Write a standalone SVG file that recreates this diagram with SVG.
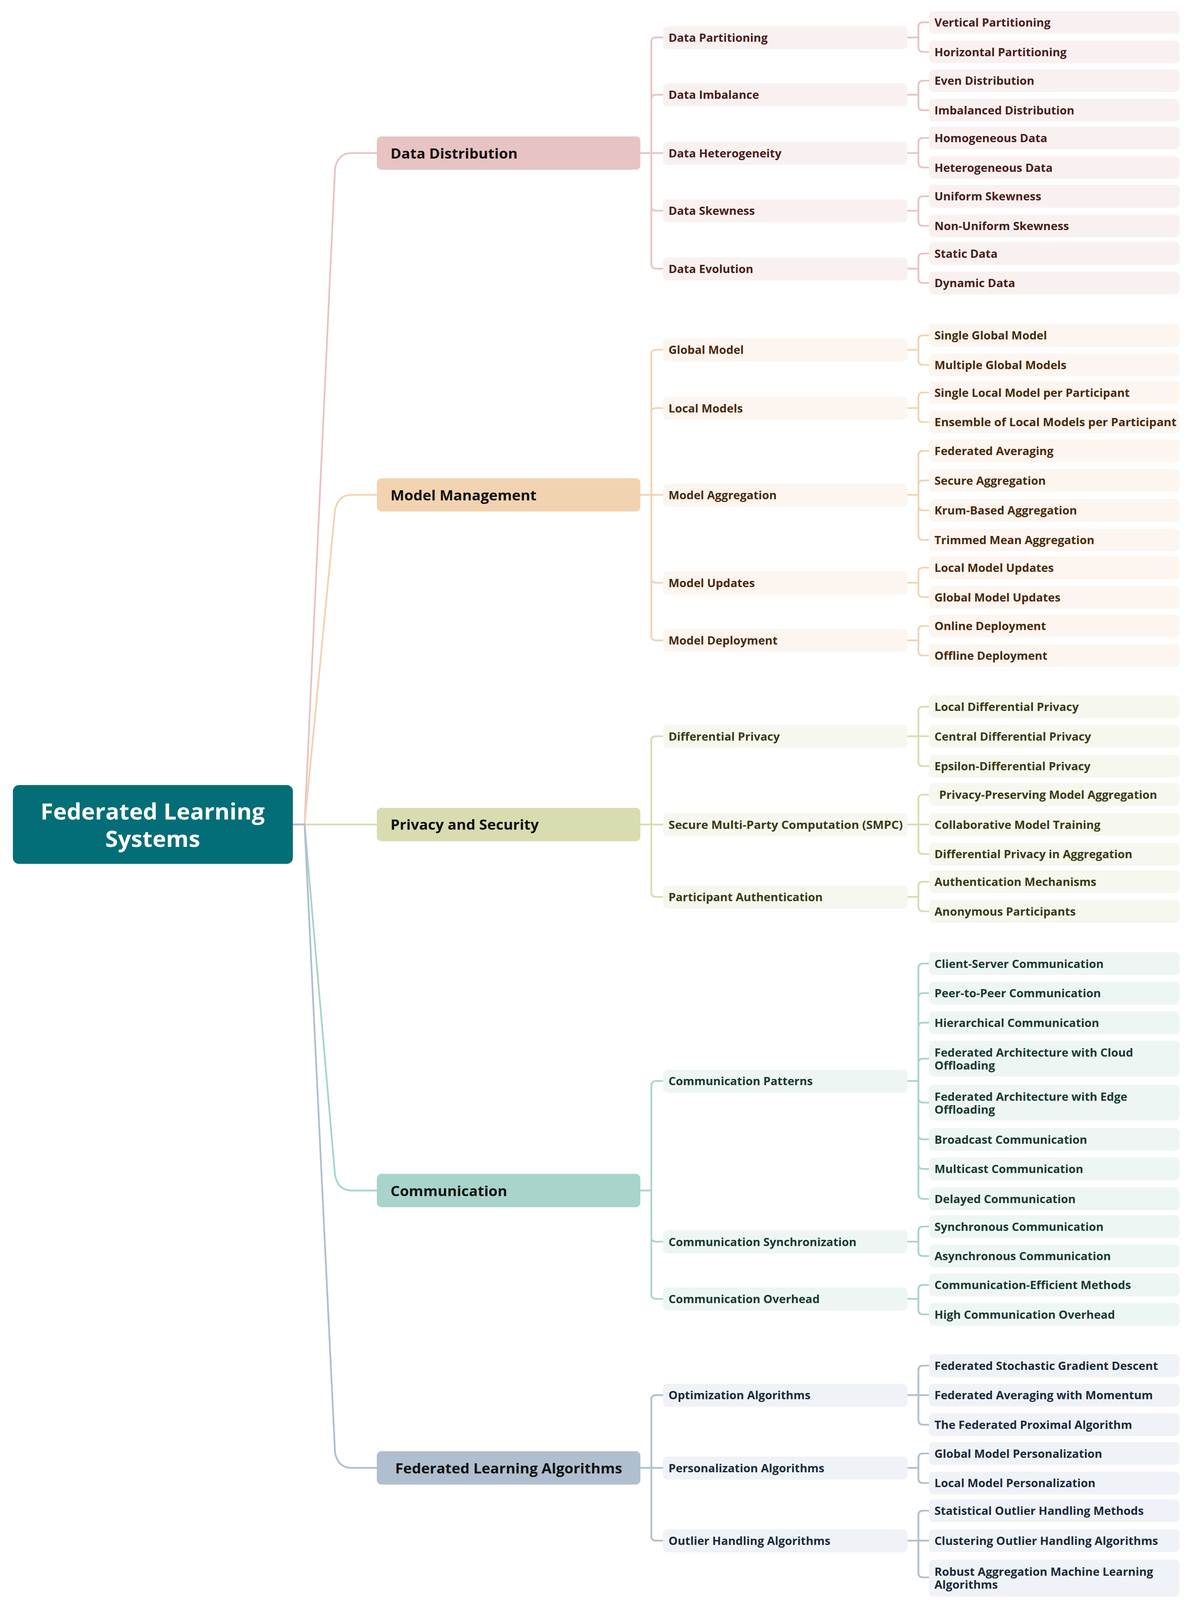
<svg xmlns="http://www.w3.org/2000/svg" width="3068" height="4238" viewBox="0 0 3068 4238">
<style>
text{font-family:"Open Sans","Liberation Sans",sans-serif;font-weight:700;dominant-baseline:central}
.t1{font-size:37.5px;fill:#111}
.t2,.t3{font-size:29.5px}
.c{fill:none;stroke-width:4.5;stroke-linecap:round}
.dd .b1{fill:#e8c3c3}.dd .b{fill:#f9f1f0}.dd text.t2,.dd text.t3{fill:#4a1c1c}
.mm .b1{fill:#f2d3b1}.mm .b{fill:#fdf5ef}.mm text.t2,.mm text.t3{fill:#4a2a08}
.ps .b1{fill:#d9dcb0}.ps .b{fill:#f6f7ee}.ps text.t2,.ps text.t3{fill:#3a3a12}
.cm .b1{fill:#a8d4cb}.cm .b{fill:#eef6f4}.cm text.t2,.cm text.t3{fill:#173a32}
.fa .b1{fill:#b0bfcf}.fa .b{fill:#eff2f6}.fa text.t2,.fa text.t3{fill:#1a2a3c}
.cdd{stroke:#e8c3c3}.cmm{stroke:#f2d3b1}.cps{stroke:#d9dcb0}.ccm{stroke:#a8d4cb}.cfa{stroke:#b0bfcf}
</style>
<rect width="3068" height="4238" fill="#fff"/>
<g transform="scale(1,0.97)">
<g id="connectors">
<path class="c cdd" d="M750,2176 H780 L858,444 Q866,404 900,404 H965"/>
<path class="c cmm" d="M750,2176 H780 L858,1346 Q866,1306 900,1306 H965"/>
<path class="c cps" d="M750,2176 H965"/>
<path class="c ccm" d="M750,2176 H780 L858,3102 Q866,3142 900,3142 H965"/>
<path class="c cfa" d="M750,2176 H780 L858,3834 Q866,3874 900,3874 H965"/>
<path class="c cdd" d="M1640,404 H1668 V111 Q1668,99 1680,99 H1698 M1668,262 Q1668,250 1680,250 H1698 M1640,404 H1698 M1668,404 V697 Q1668,709 1680,709 H1698 M1668,544 Q1668,556 1680,556 H1698"/>
<path class="c cdd" d="M2324,99 H2352 M2352,99 V71 Q2352,59 2364,59 H2379 M2352,99 V125 Q2352,137 2364,137 H2379 M2324,250 H2352 V225 Q2352,213 2364,213 H2379 M2352,250 V279 Q2352,291 2364,291 H2379 M2324,404 H2352 V376 Q2352,364 2364,364 H2379 M2352,404 V430 Q2352,442 2364,442 H2379 M2324,556 H2352 V530 Q2352,518 2364,518 H2379 M2352,556 V584 Q2352,596 2364,596 H2379 M2324,709 H2352 V681 Q2352,669 2364,669 H2379 M2352,709 V735 Q2352,747 2364,747 H2379"/>
<path class="c cmm" d="M1640,1306 H1698 M1668,1306 V935 Q1668,923 1680,923 H1698 M1668,1089 Q1668,1077 1680,1077 H1698 M1668,1306 V1678 Q1668,1690 1680,1690 H1698 M1668,1526 Q1668,1538 1680,1538 H1698"/>
<path class="c cmm" d="M2324,923 H2352 V897 Q2352,885 2364,885 H2379 M2352,923 V951 Q2352,963 2364,963 H2379 M2324,1077 H2352 V1048 Q2352,1036 2364,1036 H2379 M2352,1077 V1102 Q2352,1114 2364,1114 H2379 M2324,1306 H2352 V1202 Q2352,1190 2364,1190 H2379 M2352,1280 Q2352,1268 2364,1268 H2379 M2352,1306 V1413 Q2352,1425 2364,1425 H2379 M2352,1335 Q2352,1347 2364,1347 H2379 M2324,1538 H2352 V1510 Q2352,1498 2364,1498 H2379 M2352,1538 V1564 Q2352,1576 2364,1576 H2379 M2324,1690 H2352 V1664 Q2352,1652 2364,1652 H2379 M2352,1690 V1718 Q2352,1730 2364,1730 H2379"/>
<path class="c cps" d="M1640,2176 H1698 M1668,2176 V1955 Q1668,1943 1680,1943 H1698 M1668,2176 V2355 Q1668,2367 1680,2367 H1698"/>
<path class="c cps" d="M2324,1943 H2379 M2352,1943 V1877 Q2352,1865 2364,1865 H2379 M2352,1943 V2010 Q2352,2022 2364,2022 H2379 M2324,2176 H2379 M2352,2176 V2109 Q2352,2097 2364,2097 H2379 M2352,2176 V2242 Q2352,2254 2364,2254 H2379 M2324,2367 H2352 V2339 Q2352,2327 2364,2327 H2379 M2352,2367 V2393 Q2352,2405 2364,2405 H2379"/>
<path class="c ccm" d="M1640,3142 H1668 V2865 Q1668,2853 1680,2853 H1698 M1668,3142 V3416 Q1668,3428 1680,3428 H1698 M1668,3265 Q1668,3277 1680,3277 H1698"/>
<path class="c ccm" d="M2324,2853 H2352 V2555 Q2352,2543 2364,2543 H2379 M2352,2633 Q2352,2621 2364,2621 H2379 M2352,2711 Q2352,2699 2364,2699 H2379 M2352,2806 Q2352,2794 2364,2794 H2379 M2352,2853 V3152 Q2352,3164 2364,3164 H2379 M2352,2898 Q2352,2910 2364,2910 H2379 M2352,2995 Q2352,3007 2364,3007 H2379 M2352,3073 Q2352,3085 2364,3085 H2379 M2324,3277 H2352 V3249 Q2352,3237 2364,3237 H2379 M2352,3277 V3303 Q2352,3315 2364,3315 H2379 M2324,3428 H2352 V3403 Q2352,3391 2364,3391 H2379 M2352,3428 V3457 Q2352,3469 2364,3469 H2379"/>
<path class="c cfa" d="M1640,3874 H1698 M1668,3874 V3694 Q1668,3682 1680,3682 H1698 M1668,3874 V4054 Q1668,4066 1680,4066 H1698"/>
<path class="c cfa" d="M2324,3682 H2379 M2352,3682 V3616 Q2352,3604 2364,3604 H2379 M2352,3682 V3748 Q2352,3760 2364,3760 H2379 M2324,3874 H2352 V3848 Q2352,3836 2364,3836 H2379 M2352,3874 V3902 Q2352,3914 2364,3914 H2379 M2324,4066 H2379 M2352,4066 V3999 Q2352,3987 2364,3987 H2379 M2352,4066 V4151 Q2352,4163 2364,4163 H2379"/>
</g>
<g id="root"><rect x="33" y="2072" width="717" height="208" rx="16" fill="#036e77"/>
<text x="391" y="2140" text-anchor="middle" font-size="59" fill="#fff">Federated Learning</text>
<text x="391" y="2212" text-anchor="middle" font-size="59" fill="#fff">Systems</text></g>

<g id="dd" class="dd">
<rect class="b1" x="965" y="360" width="675" height="88" rx="12"/><text class="t1" x="1000" y="404">Data Distribution</text>
<rect class="b" x="1698" y="69" width="626" height="61" rx="12"/><text class="t2" x="1712" y="99">Data Partitioning</text>
<rect class="b" x="1698" y="220" width="626" height="61" rx="12"/><text class="t2" x="1712" y="250">Data Imbalance</text>
<rect class="b" x="1698" y="374" width="626" height="61" rx="12"/><text class="t2" x="1712" y="404">Data Heterogeneity</text>
<rect class="b" x="1698" y="526" width="626" height="61" rx="12"/><text class="t2" x="1712" y="556">Data Skewness</text>
<rect class="b" x="1698" y="679" width="626" height="61" rx="12"/><text class="t2" x="1712" y="709">Data Evolution</text>
<rect class="b" x="2379" y="29" width="642" height="60" rx="12"/><text class="t3" x="2393" y="59">Vertical Partitioning</text>
<rect class="b" x="2379" y="107" width="642" height="60" rx="12"/><text class="t3" x="2393" y="137">Horizontal Partitioning</text>
<rect class="b" x="2379" y="183" width="642" height="60" rx="12"/><text class="t3" x="2393" y="213">Even Distribution</text>
<rect class="b" x="2379" y="261" width="642" height="60" rx="12"/><text class="t3" x="2393" y="291">Imbalanced Distribution</text>
<rect class="b" x="2379" y="334" width="642" height="60" rx="12"/><text class="t3" x="2393" y="364">Homogeneous Data</text>
<rect class="b" x="2379" y="412" width="642" height="60" rx="12"/><text class="t3" x="2393" y="442">Heterogeneous Data</text>
<rect class="b" x="2379" y="488" width="642" height="60" rx="12"/><text class="t3" x="2393" y="518">Uniform Skewness</text>
<rect class="b" x="2379" y="566" width="642" height="60" rx="12"/><text class="t3" x="2393" y="596">Non-Uniform Skewness</text>
<rect class="b" x="2379" y="639" width="642" height="60" rx="12"/><text class="t3" x="2393" y="669">Static Data</text>
<rect class="b" x="2379" y="717" width="642" height="60" rx="12"/><text class="t3" x="2393" y="747">Dynamic Data</text>
</g>

<g id="mm" class="mm">
<rect class="b1" x="965" y="1262" width="675" height="88" rx="12"/><text class="t1" x="1000" y="1306">Model Management</text>
<rect class="b" x="1698" y="893" width="626" height="61" rx="12"/><text class="t2" x="1712" y="923">Global Model</text>
<rect class="b" x="1698" y="1047" width="626" height="61" rx="12"/><text class="t2" x="1712" y="1077">Local Models</text>
<rect class="b" x="1698" y="1276" width="626" height="61" rx="12"/><text class="t2" x="1712" y="1306">Model Aggregation</text>
<rect class="b" x="1698" y="1508" width="626" height="61" rx="12"/><text class="t2" x="1712" y="1538">Model Updates</text>
<rect class="b" x="1698" y="1660" width="626" height="61" rx="12"/><text class="t2" x="1712" y="1690">Model Deployment</text>
<rect class="b" x="2379" y="855" width="642" height="60" rx="12"/><text class="t3" x="2393" y="885">Single Global Model</text>
<rect class="b" x="2379" y="933" width="642" height="60" rx="12"/><text class="t3" x="2393" y="963">Multiple Global Models</text>
<rect class="b" x="2379" y="1006" width="642" height="60" rx="12"/><text class="t3" x="2393" y="1036">Single Local Model per Participant</text>
<rect class="b" x="2379" y="1084" width="642" height="60" rx="12"/><text class="t3" x="2393" y="1114" textLength="620" lengthAdjust="spacingAndGlyphs">Ensemble of Local Models per Participant</text>
<rect class="b" x="2379" y="1160" width="642" height="60" rx="12"/><text class="t3" x="2393" y="1190">Federated Averaging</text>
<rect class="b" x="2379" y="1238" width="642" height="60" rx="12"/><text class="t3" x="2393" y="1268">Secure Aggregation</text>
<rect class="b" x="2379" y="1317" width="642" height="60" rx="12"/><text class="t3" x="2393" y="1347">Krum-Based Aggregation</text>
<rect class="b" x="2379" y="1395" width="642" height="60" rx="12"/><text class="t3" x="2393" y="1425">Trimmed Mean Aggregation</text>
<rect class="b" x="2379" y="1468" width="642" height="60" rx="12"/><text class="t3" x="2393" y="1498">Local Model Updates</text>
<rect class="b" x="2379" y="1546" width="642" height="60" rx="12"/><text class="t3" x="2393" y="1576">Global Model Updates</text>
<rect class="b" x="2379" y="1622" width="642" height="60" rx="12"/><text class="t3" x="2393" y="1652">Online Deployment</text>
<rect class="b" x="2379" y="1700" width="642" height="60" rx="12"/><text class="t3" x="2393" y="1730">Offline Deployment</text>
</g>

<g id="ps" class="ps">
<rect class="b1" x="965" y="2132" width="675" height="88" rx="12"/><text class="t1" x="1000" y="2176">Privacy and Security</text>
<rect class="b" x="1698" y="1913" width="626" height="61" rx="12"/><text class="t2" x="1712" y="1943">Differential Privacy</text>
<rect class="b" x="1698" y="2146" width="626" height="61" rx="12"/><text class="t2" x="1712" y="2176" textLength="600" lengthAdjust="spacingAndGlyphs">Secure Multi-Party Computation (SMPC)</text>
<rect class="b" x="1698" y="2337" width="626" height="61" rx="12"/><text class="t2" x="1712" y="2367">Participant Authentication</text>
<rect class="b" x="2379" y="1835" width="642" height="60" rx="12"/><text class="t3" x="2393" y="1865">Local Differential Privacy</text>
<rect class="b" x="2379" y="1913" width="642" height="60" rx="12"/><text class="t3" x="2393" y="1943">Central Differential Privacy</text>
<rect class="b" x="2379" y="1992" width="642" height="60" rx="12"/><text class="t3" x="2393" y="2022">Epsilon-Differential Privacy</text>
<rect class="b" x="2379" y="2067" width="642" height="60" rx="12"/><text class="t3" x="2405" y="2097">Privacy-Preserving Model Aggregation</text>
<rect class="b" x="2379" y="2146" width="642" height="60" rx="12"/><text class="t3" x="2393" y="2176">Collaborative Model Training</text>
<rect class="b" x="2379" y="2224" width="642" height="60" rx="12"/><text class="t3" x="2393" y="2254">Differential Privacy in Aggregation</text>
<rect class="b" x="2379" y="2297" width="642" height="60" rx="12"/><text class="t3" x="2393" y="2327">Authentication Mechanisms</text>
<rect class="b" x="2379" y="2375" width="642" height="60" rx="12"/><text class="t3" x="2393" y="2405">Anonymous Participants</text>
</g>

<g id="cm" class="cm">
<rect class="b1" x="965" y="3098" width="675" height="88" rx="12"/><text class="t1" x="1000" y="3142">Communication</text>
<rect class="b" x="1698" y="2823" width="626" height="61" rx="12"/><text class="t2" x="1712" y="2853">Communication Patterns</text>
<rect class="b" x="1698" y="3247" width="626" height="61" rx="12"/><text class="t2" x="1712" y="3277">Communication Synchronization</text>
<rect class="b" x="1698" y="3398" width="626" height="61" rx="12"/><text class="t2" x="1712" y="3428">Communication Overhead</text>
<rect class="b" x="2379" y="2513" width="642" height="60" rx="12"/><text class="t3" x="2393" y="2543">Client-Server Communication</text>
<rect class="b" x="2379" y="2591" width="642" height="60" rx="12"/><text class="t3" x="2393" y="2621">Peer-to-Peer Communication</text>
<rect class="b" x="2379" y="2669" width="642" height="60" rx="12"/><text class="t3" x="2393" y="2699">Hierarchical Communication</text>
<rect class="b" x="2379" y="2747" width="642" height="94" rx="12"/><text class="t3" x="2393" y="2778">Federated Architecture with Cloud</text><text class="t3" x="2393" y="2812">Offloading</text>
<rect class="b" x="2379" y="2863" width="642" height="94" rx="12"/><text class="t3" x="2393" y="2894">Federated Architecture with Edge</text><text class="t3" x="2393" y="2928">Offloading</text>
<rect class="b" x="2379" y="2977" width="642" height="60" rx="12"/><text class="t3" x="2393" y="3007">Broadcast Communication</text>
<rect class="b" x="2379" y="3055" width="642" height="60" rx="12"/><text class="t3" x="2393" y="3085">Multicast Communication</text>
<rect class="b" x="2379" y="3134" width="642" height="60" rx="12"/><text class="t3" x="2393" y="3164">Delayed Communication</text>
<rect class="b" x="2379" y="3207" width="642" height="60" rx="12"/><text class="t3" x="2393" y="3237">Synchronous Communication</text>
<rect class="b" x="2379" y="3285" width="642" height="60" rx="12"/><text class="t3" x="2393" y="3315">Asynchronous Communication</text>
<rect class="b" x="2379" y="3361" width="642" height="60" rx="12"/><text class="t3" x="2393" y="3391">Communication-Efficient Methods</text>
<rect class="b" x="2379" y="3439" width="642" height="60" rx="12"/><text class="t3" x="2393" y="3469">High Communication Overhead</text>
</g>

<g id="fa" class="fa">
<rect class="b1" x="965" y="3830" width="675" height="88" rx="12"/><text class="t1" x="1012" y="3874">Federated Learning Algorithms</text>
<rect class="b" x="1698" y="3652" width="626" height="61" rx="12"/><text class="t2" x="1712" y="3682">Optimization Algorithms</text>
<rect class="b" x="1698" y="3844" width="626" height="61" rx="12"/><text class="t2" x="1712" y="3874">Personalization Algorithms</text>
<rect class="b" x="1698" y="4036" width="626" height="61" rx="12"/><text class="t2" x="1712" y="4066">Outlier Handling Algorithms</text>
<rect class="b" x="2379" y="3574" width="642" height="60" rx="12"/><text class="t3" x="2393" y="3604">Federated Stochastic Gradient Descent</text>
<rect class="b" x="2379" y="3652" width="642" height="60" rx="12"/><text class="t3" x="2393" y="3682">Federated Averaging with Momentum</text>
<rect class="b" x="2379" y="3730" width="642" height="60" rx="12"/><text class="t3" x="2393" y="3760">The Federated Proximal Algorithm</text>
<rect class="b" x="2379" y="3806" width="642" height="60" rx="12"/><text class="t3" x="2393" y="3836">Global Model Personalization</text>
<rect class="b" x="2379" y="3884" width="642" height="60" rx="12"/><text class="t3" x="2393" y="3914">Local Model Personalization</text>
<rect class="b" x="2379" y="3957" width="642" height="60" rx="12"/><text class="t3" x="2393" y="3987">Statistical Outlier Handling Methods</text>
<rect class="b" x="2379" y="4036" width="642" height="60" rx="12"/><text class="t3" x="2393" y="4066">Clustering Outlier Handling Algorithms</text>
<rect class="b" x="2379" y="4116" width="642" height="98" rx="12"/><text class="t3" x="2393" y="4148">Robust Aggregation Machine Learning</text><text class="t3" x="2393" y="4182">Algorithms</text>
</g>
</g>
</svg>
